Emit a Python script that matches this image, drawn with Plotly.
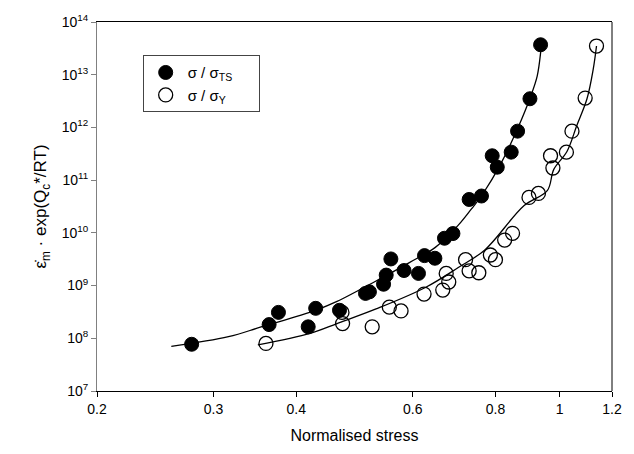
import plotly.graph_objects as go

# Data
ts_x = [0.278, 0.364, 0.376, 0.417, 0.428, 0.465, 0.509, 0.516, 0.542, 0.547, 0.556, 0.582, 0.612,
        0.625, 0.648, 0.670, 0.690, 0.730, 0.762, 0.791, 0.805, 0.845, 0.864, 0.902, 0.936]
ts_y = [7.7e7, 1.82e8, 3.1e8, 1.65e8, 3.7e8, 3.4e8, 7.1e8, 7.6e8, 1.06e9, 1.58e9, 3.2e9, 1.93e9, 1.7e9,
        3.7e9, 3.3e9, 7.9e9, 9.7e9, 4.3e10, 5.0e10, 2.9e11, 1.76e11, 3.4e11, 8.5e11, 3.5e12, 3.7e13]

y_x = [0.360, 0.469, 0.470, 0.521, 0.553, 0.576, 0.624, 0.666, 0.674, 0.680, 0.721, 0.730, 0.755,
       0.786, 0.800, 0.826, 0.849, 0.899, 0.929, 0.969, 0.977, 1.024, 1.044, 1.093, 1.137]
y_y = [8.0e7, 3.1e8, 1.9e8, 1.65e8, 3.9e8, 3.3e8, 6.9e8, 8.2e8, 1.7e9, 1.17e9, 3.1e9, 1.9e9, 1.75e9,
       3.8e9, 3.1e9, 7.3e9, 9.8e9, 4.7e10, 5.6e10, 2.9e11, 1.7e11, 3.4e11, 8.5e11, 3.6e12, 3.5e13]

# Fitted curves
fit_ts_x = [0.259, 0.316, 0.354, 0.428, 0.461, 0.528, 0.592, 0.649, 0.703, 0.736, 0.765, 0.816,
            0.864, 0.905, 0.925, 0.936, 0.938]
fit_ts_y = [7.0e7, 1.07e8, 1.64e8, 3.4e8, 5.0e8, 1.22e9, 2.7e9, 5.3e9, 1.4e10, 2.85e10, 5.4e10, 2.1e11,
            9.5e11, 4.0e12, 9.4e12, 2.6e13, 3.7e13]

fit_y_x = [0.350, 0.420, 0.461, 0.528, 0.627, 0.703, 0.771, 0.884, 0.958, 0.980, 1.026, 1.062, 1.100,
           1.124, 1.137]
fit_y_y = [7.5e7, 1.24e8, 1.9e8, 3.6e8, 9.2e8, 2.2e9, 4.75e9, 3.3e10, 6.3e10, 1.6e11, 3.5e11, 1.1e12,
           3.5e12, 1.26e13, 3.5e13]

x_ticks = [0.2, 0.3, 0.4, 0.6, 0.8, 1, 1.2]
x_ticktext = ["0.2", "0.3", "0.4", "0.6", "0.8", "1", "1.2"]
y_exps = [7, 8, 9, 10, 11, 12, 13, 14]

FONT = "Arial, Liberation Sans, sans-serif"
NB = "\u00a0"

fig = go.Figure()
fig.add_trace(go.Scatter(x=fit_ts_x, y=fit_ts_y, mode="lines", line=dict(color="black", width=1.3, shape="spline"),
                         showlegend=False, hoverinfo="skip"))
fig.add_trace(go.Scatter(x=fit_y_x, y=fit_y_y, mode="lines", line=dict(color="black", width=1.3, shape="spline"),
                         showlegend=False, hoverinfo="skip"))
fig.add_trace(go.Scatter(x=ts_x, y=ts_y, mode="markers", name="σ / σ<sub>TS</sub>" + NB * 5,
                         marker=dict(symbol="circle", size=14, color="black", line=dict(color="black", width=1))))
fig.add_trace(go.Scatter(x=y_x, y=y_y, mode="markers", name="σ / σ<sub>Y</sub>",
                         marker=dict(symbol="circle-open", size=14, color="black", line=dict(color="black", width=1.3))))

fig.update_layout(
    width=634, height=454,
    margin=dict(l=97, r=15, t=20, b=59),
    paper_bgcolor="white", plot_bgcolor="white",
    font=dict(family=FONT, size=14, color="black"),
    legend=dict(x=0.0887, y=0.91, xanchor="left", yanchor="top",
                bordercolor="#444", borderwidth=1, bgcolor="white",
                font=dict(size=15), tracegroupgap=12, itemwidth=34),
    xaxis=dict(type="log", range=[-0.69897, 0.0791812], tickvals=x_ticks, ticktext=x_ticktext,
               showgrid=False, zeroline=False, showline=True, linecolor="black", linewidth=1, mirror=True,
               ticks="outside", ticklen=5, tickcolor="black",
               title=dict(text="Normalised stress", font=dict(size=16), standoff=14)),
    yaxis=dict(type="log", range=[7, 14], tickvals=[10 ** e for e in y_exps],
               ticktext=["10<sup>%d</sup>" % e for e in y_exps],
               showgrid=False, zeroline=False, showline=True, linecolor="#808080", linewidth=1,
               ticks="outside", ticklen=5, tickcolor="#808080",
               title=dict(text="ε̇<sub>m</sub> · exp(Q<sub>c</sub>*/RT)", font=dict(size=17), standoff=10)),
    shapes=[dict(type="line", xref="paper", yref="paper", x0=1, x1=1, y0=0, y1=1,
                 line=dict(color="black", width=1))],
)

fig.write_html("out.html")
